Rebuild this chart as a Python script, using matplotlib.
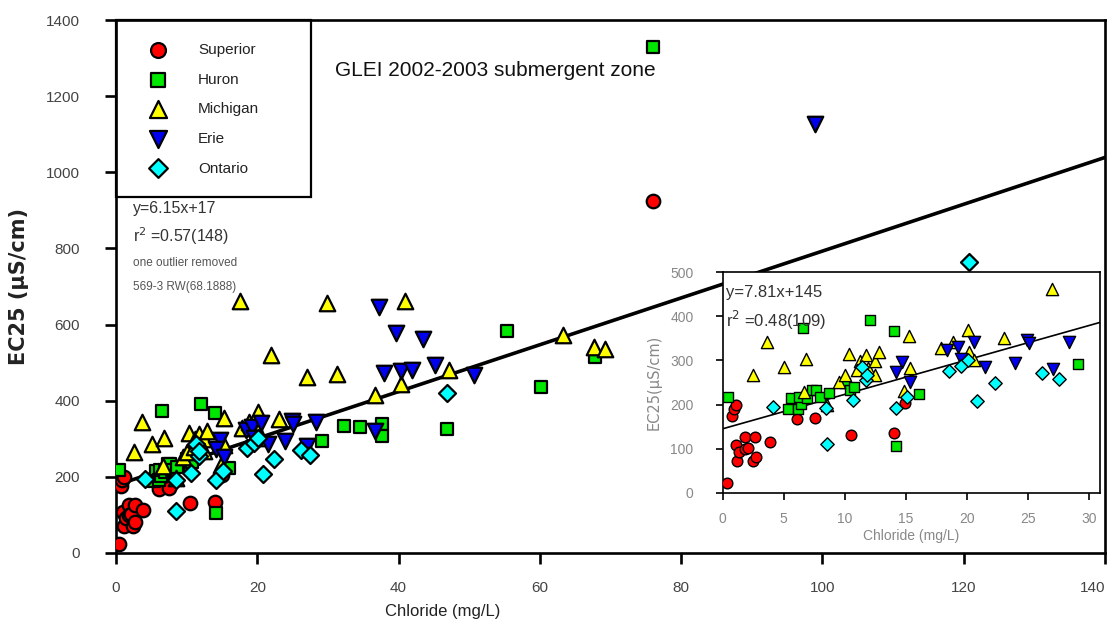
import matplotlib
matplotlib.use("Agg")
import matplotlib.pyplot as plt
import numpy as np
from matplotlib.patches import Rectangle

# ---------------- data ----------------
superior_x = [0.38, 0.77, 0.90, 1.12, 1.06, 1.20, 1.37, 1.80, 1.83, 2.10, 2.65, 2.46, 2.74,
              3.88, 6.07, 7.52, 10.5, 14.0, 14.95, 76.0]
superior_y = [23, 175, 191, 199, 108, 71, 93, 127, 99, 102, 127, 71, 81,
              114, 167, 170, 132, 135, 204, 925]

huron_x = [0.46, 6.58, 12.1, 14.0, 5.60, 5.38, 6.15, 6.40, 6.26, 6.88, 7.32, 7.65, 7.93,
           8.69, 10.03, 10.44, 10.77, 16.05, 14.19, 29.1,
           55.4, 32.3, 34.6, 37.7, 37.7, 46.8, 67.8, 60.1, 76.0]
huron_y = [217, 373, 391, 367, 215, 190, 191, 201, 218, 214, 233, 233, 218,
           226, 248, 232, 240, 224, 106, 293,
           584, 334, 330, 338, 308, 325, 516, 436, 1330]

michigan_x = [2.52, 3.61, 5.03, 6.83, 6.67, 8.53, 9.53, 10.03, 10.36, 11.21, 10.99, 11.70,
              11.89, 12.44, 12.82, 12.49, 14.87, 15.22, 15.31, 17.88, 18.83, 20.06, 20.14,
              20.56, 23.01, 26.98,
              17.5, 29.8, 21.9, 40.9, 31.3, 40.3, 47.1, 36.7, 63.3, 67.7, 69.2]
michigan_y = [266, 343, 285, 303, 228, 198, 252, 266, 314, 299, 279, 313,
              283, 299, 320, 267, 230, 355, 284, 328, 343, 370, 320,
              302, 351, 462,
              661, 657, 519, 661, 471, 445, 480, 414, 573, 541, 537]

erie_x = [14.66, 14.17, 15.35, 18.37, 19.29, 20.57, 19.48, 21.45, 23.91, 24.90, 25.09,
          27.06, 28.34,
          37.2, 39.7, 43.4, 37.9, 40.3, 41.9, 45.1, 50.7, 36.6, 99.0]
erie_y = [296, 273, 252, 324, 330, 342, 303, 286, 294, 347, 339,
          281, 343,
          647, 577, 563, 474, 477, 480, 494, 467, 321, 1127]

ontario_x = [4.10, 8.47, 8.53, 10.66, 11.38, 11.73, 11.81, 14.19, 15.09, 18.56, 19.54,
             20.09, 20.83, 22.33, 26.16, 27.52, 46.9, 120.7]
ontario_y = [195, 192, 111, 210, 285, 256, 267, 192, 216, 275, 288,
             301, 207, 248, 271, 258, 420, 765]

series_names = ["Superior", "Huron", "Michigan", "Erie", "Ontario"]
series_x = [superior_x, huron_x, michigan_x, erie_x, ontario_x]
series_y = [superior_y, huron_y, michigan_y, erie_y, ontario_y]
series_colors = ["#ff0000", "#00e800", "#ffff00", "#0000ee", "#00ffff"]
series_markers = ["o", "s", "^", "v", "D"]
series_sizes = [95, 80, 125, 125, 75]

main_slope, main_icpt = 6.15, 178.0
inset_slope, inset_icpt = 7.81, 145.0

x_ticks_main = [0, 20, 40, 60, 80, 100, 120, 140]
y_ticks_main = [0, 200, 400, 600, 800, 1000, 1200, 1400]
x_ticks_inset = [0, 5, 10, 15, 20, 25, 30]
y_ticks_inset = [0, 100, 200, 300, 400, 500]

# ---------------- style ----------------
plt.rcParams["font.family"] = ["Liberation Sans", "DejaVu Sans"]

W, H = 1108, 634
fig = plt.figure(figsize=(W / 100, H / 100), dpi=100)
fig.patch.set_facecolor("white")

def fx(px):
    return px / W

def fy(py):
    return 1 - py / H

# main axes: left 116, right 1105, top 20, bottom 553
ax = fig.add_axes([fx(116), fy(553), fx(1105) - fx(116), fy(20) - fy(553)])
ax.set_xlim(0, 140)
ax.set_ylim(0, 1400)
for s in ax.spines.values():
    s.set_linewidth(1.9)
ax.set_xticks(x_ticks_main)
ax.set_yticks(y_ticks_main)
ax.tick_params(direction="out", length=8, width=1.9, labelsize=11,
               labelcolor="#444444", pad=12)
ax.tick_params(axis="y", pad=18)
ax.get_xticklabels()[-1].set_horizontalalignment("right")

for xs, ys, c, m, sz, nm in zip(series_x, series_y, series_colors, series_markers,
                                series_sizes, series_names):
    ax.scatter(xs, ys, s=sz, c=c, marker=m, edgecolors="black", linewidths=1.6,
               zorder=3, label=nm)

xl = np.array(ax.get_xlim())
ax.plot(xl, main_slope * xl + main_icpt, color="black", lw=2.6, zorder=2)

ax.set_xlabel("Chloride (mg/L)", fontsize=12, color="#222222")
ax.xaxis.set_label_coords((443 - 116) / 989, -0.095)
ax.set_ylabel("EC25 (µS/cm)", fontsize=15, fontweight="bold", color="#222222",
              family=["DejaVu Sans"], labelpad=12)

# legend (frameless) plus drawn frame
leg = ax.legend(loc="upper left", bbox_to_anchor=(0.021, 0.968), frameon=False,
                fontsize=11, handletextpad=1.6, labelspacing=1.02, markerscale=1.1,
                borderpad=0.4, borderaxespad=0)
for t in leg.get_texts():
    t.set_color("#222222")
ax.add_patch(Rectangle((0, (553 - 197) / 533), (311 - 116) / 989, 1 - (553 - 197) / 533,
                       transform=ax.transAxes, fill=False, edgecolor="black",
                       lw=1.6, zorder=5, clip_on=False))

ax.text((335 - 116) / 989, (553 - 70) / 533, "GLEI 2002-2003 submergent zone",
        transform=ax.transAxes, fontsize=15, va="center", ha="left", color="#111111")

ax.text((133 - 116) / 989, (553 - 208) / 533, "y=6.15x+17", transform=ax.transAxes,
        fontsize=11.5, va="center", color="#333333")
ax.text((133 - 116) / 989, (553 - 236) / 533, "r$^{2}$ =0.57(148)", transform=ax.transAxes,
        fontsize=11.5, va="center", color="#333333")
ax.text((133 - 116) / 989, (553 - 263) / 533, "one outlier removed", transform=ax.transAxes,
        fontsize=8.5, va="center", color="#555555")
ax.text((133 - 116) / 989, (553 - 287) / 533, "569-3 RW(68.1888)", transform=ax.transAxes,
        fontsize=8.5, va="center", color="#555555")

# ---------------- inset ----------------
ia = fig.add_axes([fx(722.7), fy(492.7), fx(1100) - fx(722.7), fy(272.3) - fy(492.7)])
ia.set_facecolor("white")
ia.set_zorder(4)
ia.set_xlim(0, 30.9)
ia.set_ylim(0, 500)
for s in ia.spines.values():
    s.set_linewidth(1.2)
ia.set_xticks(x_ticks_inset)
ia.set_yticks(y_ticks_inset)
ia.tick_params(direction="out", length=5, width=1.2, labelsize=10,
               labelcolor="#888888", pad=9)
ia.tick_params(axis="y", pad=16)

for xs, ys, c, m, sz in zip(series_x, series_y, series_colors, series_markers, series_sizes):
    xa = np.array(xs)
    ya = np.array(ys)
    keep = (xa < 30.9) & (ya < 500)
    ia.scatter(xa[keep], ya[keep], s=sz * 0.62, c=c, marker=m, edgecolors="black",
               linewidths=1.0, zorder=3)

xi = np.array(ia.get_xlim())
ia.plot(xi, inset_slope * xi + inset_icpt, color="black", lw=1.2, zorder=2)

ia.set_xlabel("Chloride (mg/L)", fontsize=10, color="#888888", labelpad=2)
ia.set_ylabel("EC25(µS/cm)", fontsize=10.5, color="#888888", family=["DejaVu Sans"],
              labelpad=6)
ia.text(0.008, 0.91, "y=7.81x+145", transform=ia.transAxes, fontsize=12,
        va="center", color="#333333")
ia.text(0.008, 0.78, "r$^{2}$ =0.48(109)", transform=ia.transAxes, fontsize=12,
        va="center", color="#333333")

fig.savefig("out.png", dpi=100, facecolor="white")
